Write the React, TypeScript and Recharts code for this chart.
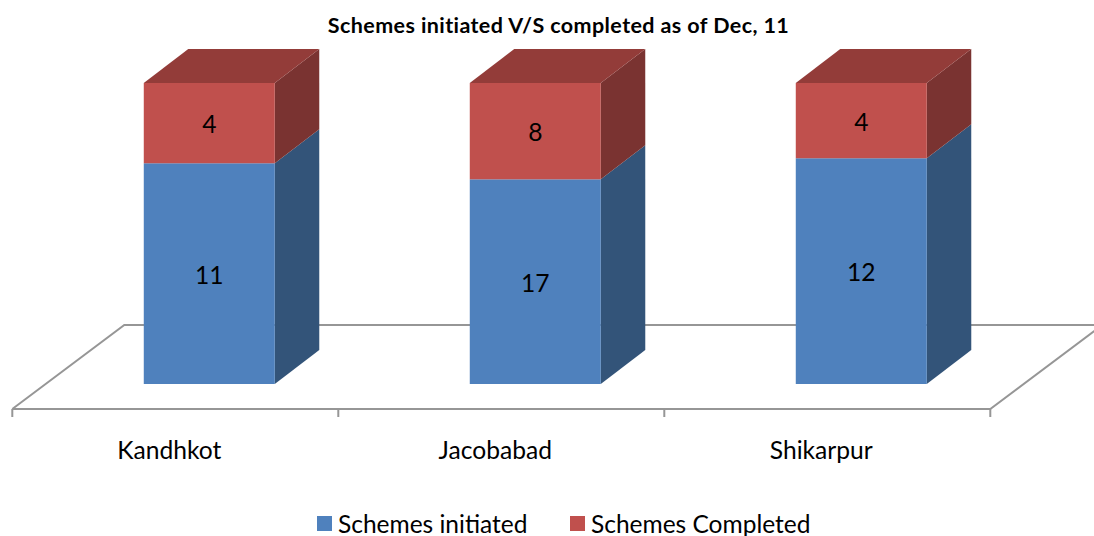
import { BarChart, Bar, XAxis, YAxis, Legend, LabelList, usePlotArea } from 'recharts'

const districts = ['Kandhkot', 'Jacobabad', 'Shikarpur']
const schemesInitiated = [11, 17, 12]
const schemesCompleted = [4, 8, 4]

const chartData = districts.map((name, i) => ({
  name,
  initiated: schemesInitiated[i],
  completed: schemesCompleted[i],
}))

const FONT = 'Lato, sans-serif'
const BLUE = '#4f81bd'
const BLUE_SIDE = '#335479'
const RED = '#c0504d'
const RED_SIDE = '#7a3331'
const RED_TOP = '#933c39'
const FLOOR = '#969696'

// 3D offsets of the box depth and of the floor around the plot area
const DEPTH_X = 44.5
const DEPTH_Y = 34

function Box(props: any) {
  const { x, y, width, height, fill, side, top } = props
  const r = x + width
  const b = y + height
  return (
    <g>
      <polygon
        points={`${r},${y} ${r + DEPTH_X},${y - DEPTH_Y} ${r + DEPTH_X},${b - DEPTH_Y} ${r},${b}`}
        fill={side}
      />
      {top && (
        <polygon
          points={`${x},${y} ${x + DEPTH_X},${y - DEPTH_Y} ${r + DEPTH_X},${y - DEPTH_Y} ${r},${y}`}
          fill={top}
        />
      )}
      <rect x={x} y={y} width={width} height={height} fill={fill} />
    </g>
  )
}

function Floor() {
  const plot = usePlotArea()
  if (!plot) return null
  const bottom = plot.y + plot.height
  const fl = plot.x - 34
  const fr = plot.x + plot.width - 34
  const fy = bottom + 25
  const by = bottom - 59
  const band = (fr - fl) / districts.length
  const ticks = [0, 1, 2, 3].map((i) => fl + band * i)
  return (
    <g stroke={FLOOR} strokeWidth={2} fill="none">
      <polyline points={`${fl},${fy} ${fl + 112},${by} ${fr + 112},${by} ${fr},${fy} ${fl},${fy}`} />
      {ticks.map((t) => (
        <line key={t} x1={t} x2={t} y1={fy} y2={fy + 8} />
      ))}
    </g>
  )
}

function CategoryTick(props: any) {
  const { x, y, payload } = props
  return (
    <text x={x - 40} y={y} textAnchor="middle" fontFamily={FONT} fontSize={24.6} fill="#000">
      {payload.value}
    </text>
  )
}

function LegendRow(props: any) {
  const items = props.payload ?? []
  return (
    <div style={{ position: 'relative', height: 24, fontFamily: FONT, fontSize: 24.5, color: '#000' }}>
      {items.map((item: any, i: number) => {
        const left = i === 0 ? 317 : 570
        return (
          <div key={item.value} style={{ position: 'absolute', left, top: 0, whiteSpace: 'nowrap', lineHeight: '24px' }}>
            <span style={{ position: 'absolute', left: 0, top: 4, width: 15, height: 15, background: item.color }} />
            <span style={{ marginLeft: 21 }}>{item.value}</span>
          </div>
        )
      })}
    </div>
  )
}

export default function App() {
  return (
    <div style={{ position: 'absolute', left: 0, top: 0, width: 1094, height: 536, background: '#fff', overflow: 'hidden' }}>
      <BarChart
        width={1094}
        height={536}
        data={chartData}
        stackOffset="expand"
        barCategoryGap="29.9%"
        margin={{ top: 83, right: 69.7, bottom: 28, left: 46.3 }}
      >
        <text x={558.5} y={33} textAnchor="middle" fontFamily={FONT} fontSize={21.5} fontWeight={700} letterSpacing={0.4} fill="#000">
          Schemes initiated V/S completed as of Dec, 11
        </text>
        <Floor />
        <XAxis dataKey="name" axisLine={false} tickLine={false} height={100} tick={<CategoryTick />} tickMargin={69} interval={0} />
        <YAxis hide domain={[0, 1]} />
        <Legend
          verticalAlign="bottom"
          align="left"
          height={24}
          itemSorter={null}
          content={<LegendRow />}
          wrapperStyle={{ left: 0, bottom: 0, width: 1094, height: 24 }}
        />
        <Bar
          dataKey="initiated"
          name="Schemes initiated"
          stackId="a"
          fill={BLUE}
          isAnimationActive={false}
          shape={<Box side={BLUE_SIDE} />}
        >
          <LabelList dataKey="initiated" position="center" dy={1.5} fontFamily={FONT} fontSize={24.6} fill="#000" />
        </Bar>
        <Bar
          dataKey="completed"
          name="Schemes Completed"
          stackId="a"
          fill={RED}
          isAnimationActive={false}
          shape={<Box side={RED_SIDE} top={RED_TOP} />}
        >
          <LabelList dataKey="completed" position="center" dy={1.5} fontFamily={FONT} fontSize={24.6} fill="#000" />
        </Bar>
      </BarChart>
    </div>
  )
}
